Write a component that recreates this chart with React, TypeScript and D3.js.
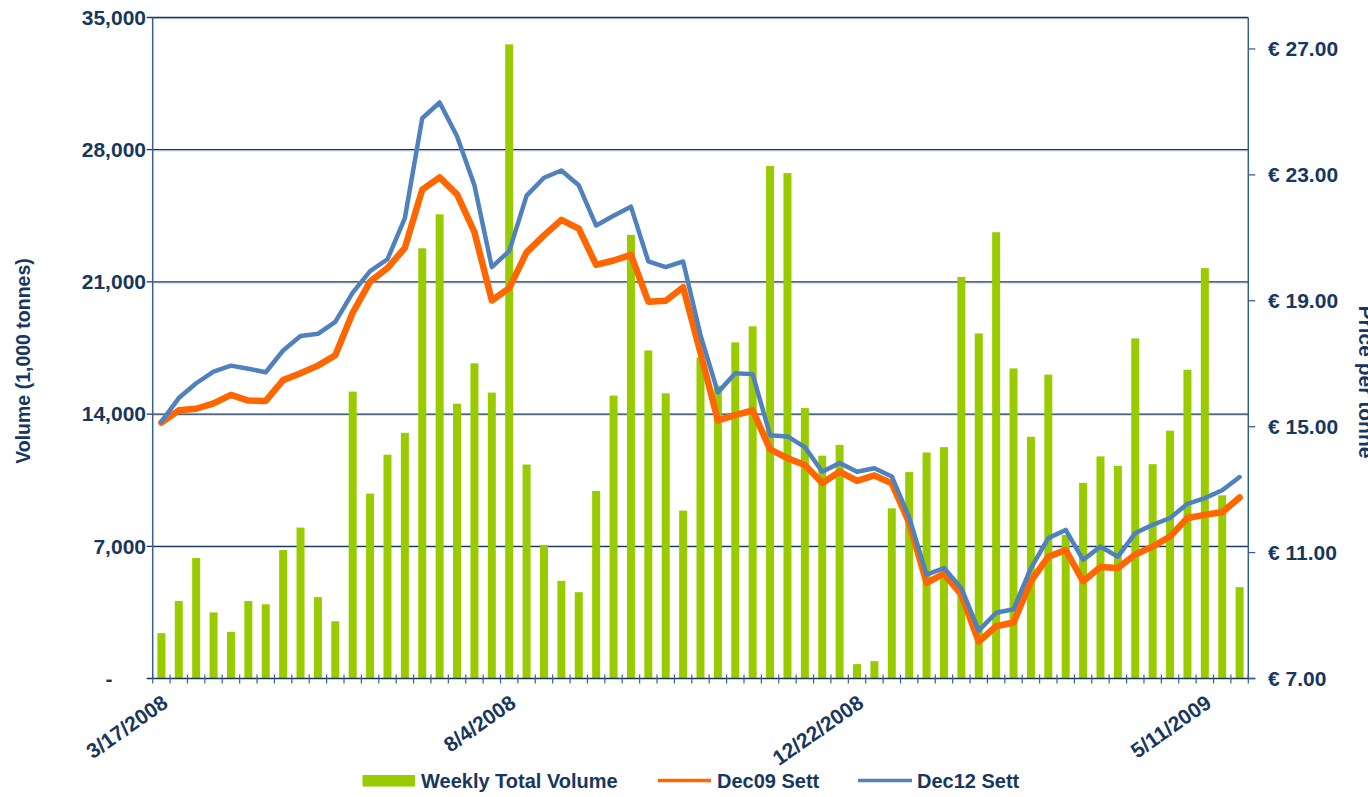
import React from "react";
import { scaleBand, scaleLinear, line, format } from "d3";

// weekly settlement dates
const weeks = [
  "3/17/2008", "3/24/2008", "3/31/2008", "4/7/2008", "4/14/2008", "4/21/2008", "4/28/2008",
  "5/5/2008", "5/12/2008", "5/19/2008", "5/26/2008", "6/2/2008", "6/9/2008", "6/16/2008",
  "6/23/2008", "6/30/2008", "7/7/2008", "7/14/2008", "7/21/2008", "7/28/2008", "8/4/2008",
  "8/11/2008", "8/18/2008", "8/25/2008", "9/1/2008", "9/8/2008", "9/15/2008", "9/22/2008",
  "9/29/2008", "10/6/2008", "10/13/2008", "10/20/2008", "10/27/2008", "11/3/2008", "11/10/2008",
  "11/17/2008", "11/24/2008", "12/1/2008", "12/8/2008", "12/15/2008", "12/22/2008", "12/29/2008",
  "1/5/2009", "1/12/2009", "1/19/2009", "1/26/2009", "2/2/2009", "2/9/2009", "2/16/2009",
  "2/23/2009", "3/2/2009", "3/9/2009", "3/16/2009", "3/23/2009", "3/30/2009", "4/6/2009",
  "4/13/2009", "4/20/2009", "4/27/2009", "5/4/2009", "5/11/2009", "5/18/2009", "5/25/2009",
];

const labelWeeks = ["3/17/2008", "8/4/2008", "12/22/2008", "5/11/2009"];

// weekly total volume, 1,000 tonnes
const volume = [
  2400, 4100, 6380, 3500, 2470, 4100, 3930, 6800, 7990, 4310, 3030, 15190, 9790, 11850,
  13010, 22780, 24580, 14550, 16690, 15140, 33580, 11330, 7060, 5170, 4570, 9930, 14980,
  23490, 17370, 15100, 8890, 17000, 15500, 17800, 18650, 27140, 26760, 14320, 11800, 12370,
  760, 920, 9010, 10930, 11970, 12250, 21260, 18270, 23630, 16420, 12800, 16090, 7600,
  10360, 11760, 11260, 18010, 11350, 13120, 16350, 21730, 9700, 4840,
];

// EUR per tonne
const dec09 = [
  15.13, 15.52, 15.57, 15.74, 16.01, 15.83, 15.82, 16.48, 16.7, 16.94, 17.27, 18.62, 19.61,
  20.04, 20.68, 22.53, 22.92, 22.38, 21.18, 19.01, 19.4, 20.54, 21.08, 21.57, 21.29, 20.14,
  20.28, 20.46, 18.97, 19.0, 19.43, 17.34, 15.2, 15.37, 15.52, 14.28, 14.0, 13.78, 13.21,
  13.57, 13.28, 13.45, 13.2, 11.95, 10.04, 10.33, 9.66, 8.17, 8.66, 8.78, 10.09, 10.87,
  11.08, 10.09, 10.54, 10.51, 10.94, 11.19, 11.51, 12.1, 12.2, 12.28, 12.75,
];

const dec12 = [
  15.16, 15.91, 16.38, 16.75, 16.94, 16.84, 16.73, 17.42, 17.88, 17.95, 18.33, 19.26, 19.94,
  20.32, 21.63, 24.8, 25.3, 24.23, 22.67, 20.07, 20.58, 22.34, 22.91, 23.14, 22.67, 21.39,
  21.7, 21.99, 20.25, 20.07, 20.25, 17.91, 16.09, 16.7, 16.67, 14.73, 14.69, 14.35, 13.57,
  13.85, 13.57, 13.68, 13.42, 12.12, 10.3, 10.51, 9.87, 8.52, 9.09, 9.2, 10.51, 11.46,
  11.72, 10.77, 11.19, 10.87, 11.62, 11.88, 12.1, 12.55, 12.73, 12.98, 13.4,
];

const volumeTicks = [0, 7000, 14000, 21000, 28000, 35000];
const priceTicks = [7, 11, 15, 19, 23, 27];

const navy = "#17375E";
const axisBlue = "#3A5F8E";
const green = "#99CC00";
const orange = "#FF6600";
const blue = "#4F81BD";
const font = "'Liberation Sans', Arial, sans-serif";

export default function App() {
  const width = 1368;
  const height = 797;
  const left = 152.7;
  const right = 1248.3;
  const top = 17.5;
  const bottom = 678.5;

  const idx = weeks.map((_, i) => i);
  const x = scaleBand<number>()
    .domain(idx)
    .range([left, right])
    .paddingInner(0.54)
    .paddingOuter(0.27);
  const cx = (i: number) => (x(i) as number) + x.bandwidth() / 2;
  const boundary = (i: number) => left + i * x.step();

  const yVol = scaleLinear().domain([0, 35000]).range([bottom, top]);
  const yPrice = scaleLinear().domain([7, 28]).range([bottom, top]);

  const priceLine = line<number>()
    .x((_, i) => cx(i))
    .y((d) => yPrice(d));

  const fmt = format(",");

  const boundaries = [];
  for (let i = 0; i <= weeks.length; i++) boundaries.push(i);

  return (
    <svg
      width={width}
      height={height}
      style={{ position: "absolute", left: 0, top: 0 }}
      fontFamily={font}
      fontWeight="bold"
    >
      <rect width={width} height={height} fill="#fff" />

      {/* gridlines */}
      {volumeTicks.slice(1).map((t) => (
        <g key={t}>
          <line x1={left} x2={right} y1={yVol(t) + 1.2} y2={yVol(t) + 1.2} stroke="#C9D6E8" strokeWidth={1} />
          <line x1={left - 6} x2={right} y1={yVol(t)} y2={yVol(t)} stroke={navy} strokeWidth={1.3} />
        </g>
      ))}

      {/* bars */}
      {volume.map((v, i) => (
        <rect
          key={i}
          x={x(i)}
          y={yVol(v)}
          width={x.bandwidth()}
          height={bottom - yVol(v)}
          fill={green}
        />
      ))}

      {/* axes */}
      <line x1={left} x2={left} y1={top} y2={bottom} stroke={axisBlue} strokeWidth={1.5} />
      <line x1={right} x2={right} y1={top} y2={bottom} stroke={axisBlue} strokeWidth={1.5} />
      <line x1={left - 6} x2={right + 7} y1={bottom} y2={bottom} stroke={navy} strokeWidth={1.5} />
      {boundaries.map((i) => (
        <line
          key={i}
          x1={boundary(i)}
          x2={boundary(i)}
          y1={bottom - 4}
          y2={bottom + 5}
          stroke={axisBlue}
          strokeWidth={1.2}
        />
      ))}
      {priceTicks.map((t) => (
        <line key={t} x1={right} x2={right + 7} y1={yPrice(t)} y2={yPrice(t)} stroke={axisBlue} strokeWidth={1.3} />
      ))}

      {/* price lines */}
      <path
        d={priceLine(dec09) || ""}
        fill="none"
        stroke={orange}
        strokeWidth={6.5}
        strokeLinejoin="round"
        strokeLinecap="round"
      />
      <path
        d={priceLine(dec12) || ""}
        fill="none"
        stroke={blue}
        strokeWidth={4.5}
        strokeLinejoin="round"
        strokeLinecap="round"
      />

      {/* left tick labels */}
      {volumeTicks.map((t) =>
        t === 0 ? (
          <text key={t} x={109} y={yVol(t)} dy="0.35em" textAnchor="middle" fontSize={21} fill={navy}>
            -
          </text>
        ) : (
          <text key={t} x={146} y={yVol(t)} dy="0.35em" textAnchor="end" fontSize={21} fill={navy}>
            {fmt(t)}
          </text>
        )
      )}

      {/* right tick labels */}
      {priceTicks.map((t) => (
        <text key={t} x={1268} y={yPrice(t)} dy="0.35em" textAnchor="start" fontSize={21} fill={navy}>
          {"€ " + t.toFixed(2)}
        </text>
      ))}

      {/* x labels */}
      {labelWeeks.map((w) => {
        const i = weeks.indexOf(w);
        return (
          <text
            key={w}
            transform={`translate(${cx(i) + 8},${706}) rotate(-35)`}
            textAnchor="end"
            fontSize={21}
            fill={navy}
          >
            {w}
          </text>
        );
      })}

      {/* axis titles */}
      <text
        transform={`translate(30,361) rotate(-90)`}
        textAnchor="middle"
        fontSize={19.5}
        fill={navy}
      >
        Volume (1,000 tonnes)
      </text>
      <text
        transform={`translate(1358.5,382) rotate(90)`}
        textAnchor="middle"
        fontSize={21}
        fill={navy}
      >
        Price per tonne
      </text>

      {/* legend */}
      <rect x={362.5} y={775} width={52.5} height={11.5} fill={green} />
      <text x={421} y={788} fontSize={20} fill={navy}>
        Weekly Total Volume
      </text>
      <line x1={658} x2={711} y1={780.5} y2={780.5} stroke={orange} strokeWidth={3.5} />
      <text x={717} y={788} fontSize={20} fill={navy}>
        Dec09 Sett
      </text>
      <line x1={858} x2={912} y1={780.5} y2={780.5} stroke={blue} strokeWidth={3.5} />
      <text x={917} y={788} fontSize={20} fill={navy}>
        Dec12 Sett
      </text>
    </svg>
  );
}
